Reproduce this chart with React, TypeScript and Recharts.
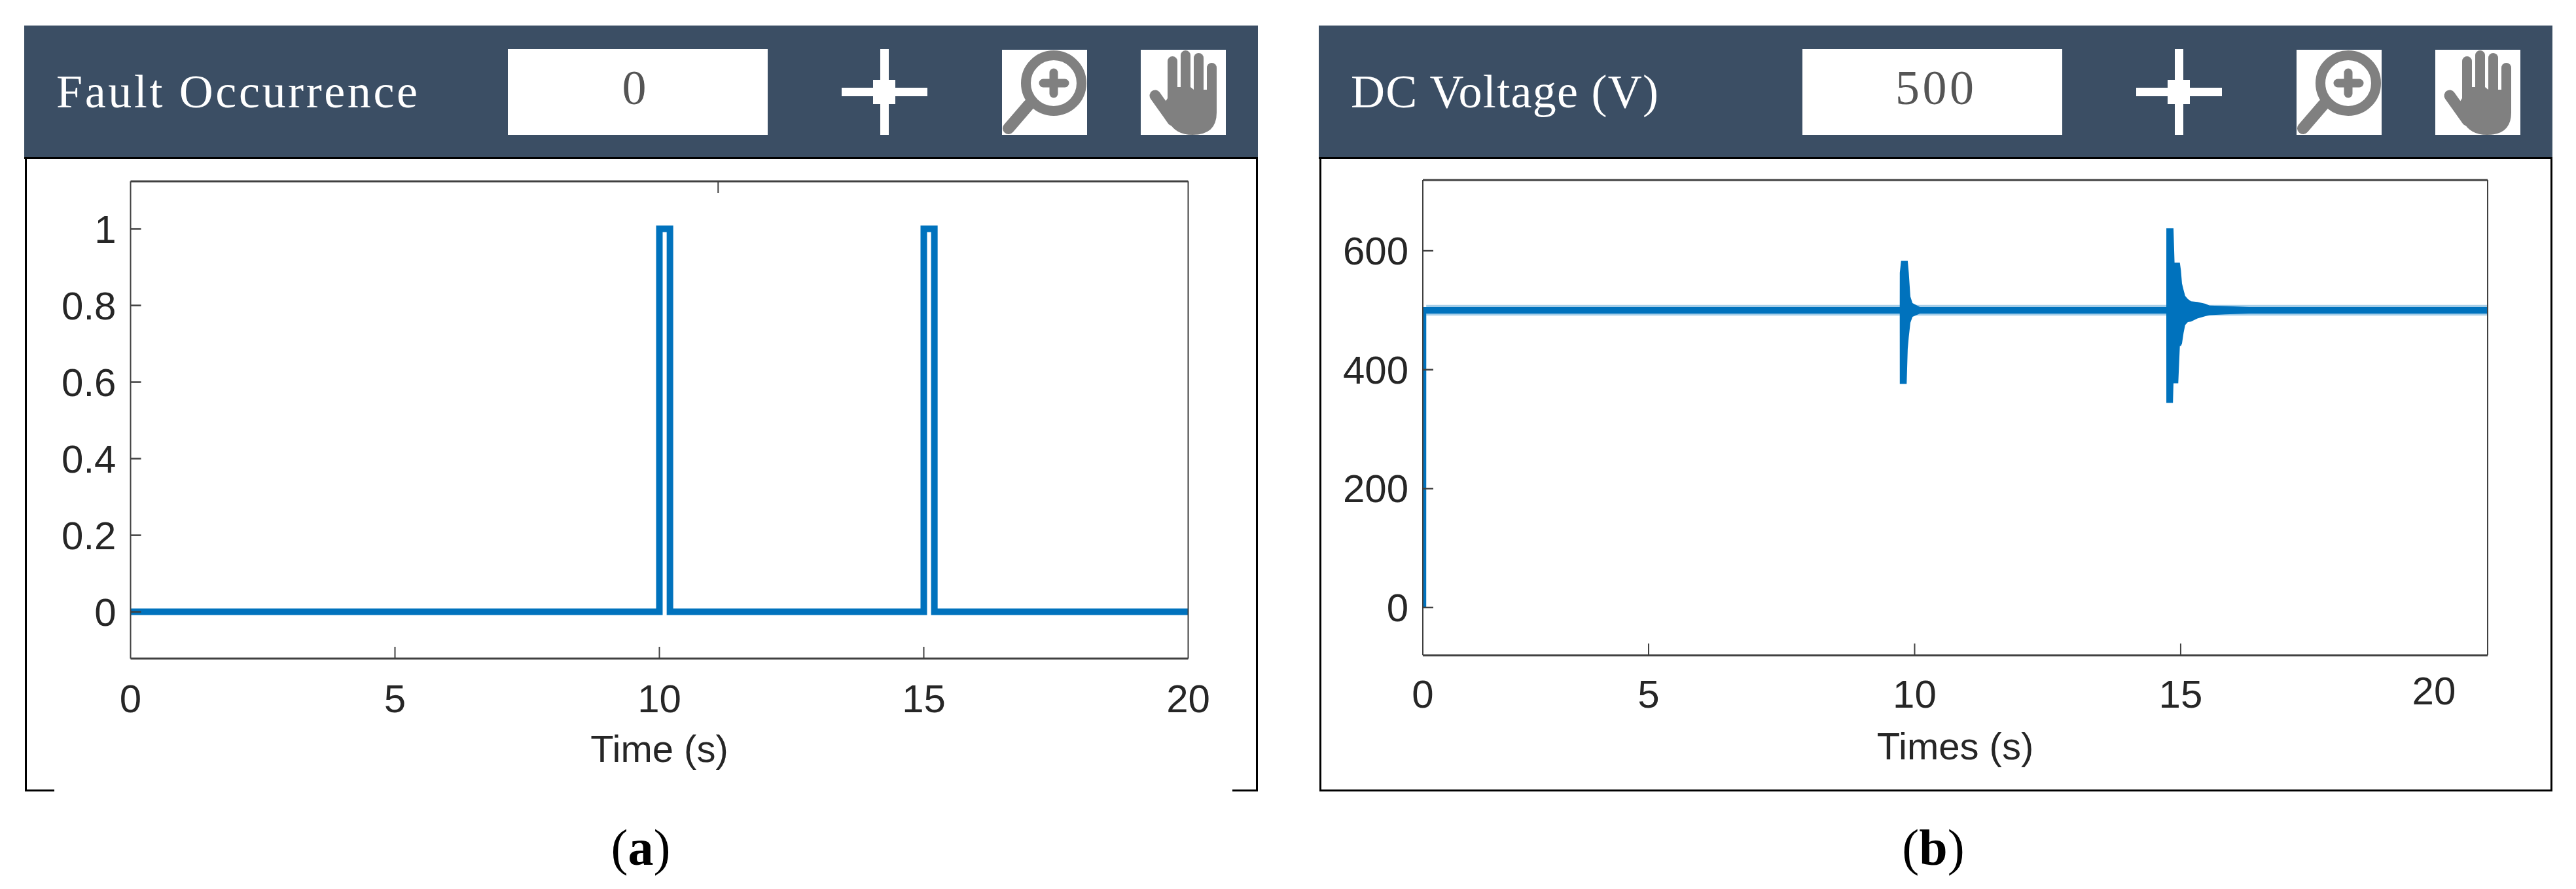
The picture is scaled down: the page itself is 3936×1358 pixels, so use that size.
import React from "react";
import { ComposedChart, Line, Area, XAxis, YAxis } from "recharts";

const BLUE = "#0072BD";
const HEADER = "#3B4E64";
const AXIS = "#404040";
const TICK_TEXT = "#262626";
const ICON = "#808080";
const SANS = "'Liberation Sans', Arial, sans-serif";
const SERIF = "'Liberation Serif', 'Times New Roman', serif";

// (a) fault flag
const faultTime = [0, 10, 10, 10.2, 10.2, 15, 15, 15.2, 15.2, 20];
const faultValue = [0, 0, 1, 1, 0, 0, 1, 1, 0, 0];
const faultXTicks = [0, 5, 10, 15, 20];
const faultYTicks = [0, 0.2, 0.4, 0.6, 0.8, 1];

// (b) dc voltage, drawn as the envelope of the ripple
const voltageTime = [
  0.756, 0.82, 0.821, 9.72, 9.721, 9.745, 9.85, 9.87, 9.89, 9.92, 9.96, 10.1,
  14.73, 14.731, 14.855, 14.865, 14.885, 14.955, 14.985, 15.005, 15.025, 15.055, 15.085, 15.135, 15.195,
  15.315, 15.465, 15.545, 15.835, 16.285, 20.77,
];
const voltageLow = [
  0, 0, 494.5, 494.5, 376, 376, 376, 435, 455, 479, 489, 494.5,
  494.5, 344, 344, 377, 377, 377, 440, 440, 444, 462, 475, 480, 481,
  486, 490, 491.5, 493, 494.5, 494.5,
];
const voltageHigh = [
  505.5, 505.5, 505.5, 505.5, 563, 583, 583, 583, 563, 523, 512, 505.5,
  505.5, 638, 638, 638, 580, 580, 580, 567, 545, 534, 524, 519, 515,
  514, 511, 508, 507, 505.5, 505.5,
];
const rippleTime = [0.82, 9.72, 16.285, 20.77];
const rippleLow = [491, 491, 491, 491];
const rippleHigh = [509, 509, 509, 509];
// the bottom axis of this panel sits 0.75 s to the left of the top one
const voltageXTicks = [0.756, 5, 10, 15, 19.76];
const voltageXLabels = ["0", "5", "10", "15", "20"];
const voltageTopTicks = [5.75, 10.75, 15.75];
const voltageYTicks = [0, 200, 400, 600];

const faultData = faultTime.map((t, i) => ({ t, fault: faultValue[i] }));
const voltageData = voltageTime.map((t, i) => ({ t, band: [voltageLow[i], voltageHigh[i]] }));
const rippleData = rippleTime.map((t, i) => ({ t, ripple: [rippleLow[i], rippleHigh[i]] }));

const PANEL_W = 1883;
const PANEL_H = 965;

// ticks point inwards like matlab, the label sits on the outside
function bottomTick(labels, marked, labelY) {
  return ({ x, y, payload, index }) => {
    const v = payload.value;
    const raised = labels && v > 19 && v < 20;
    return (
      <g>
        {marked.includes(v) && <line x1={x} x2={x} y1={y} y2={y - 18} stroke={AXIS} strokeWidth={2} />}
        <text x={x} y={y + (raised ? labelY - 5 : labelY)} textAnchor="middle" fontFamily={SANS} fontSize={60} fill={TICK_TEXT}>
          {labels ? labels[index] : v}
        </text>
      </g>
    );
  };
}

function topTick({ x, y }) {
  return <line x1={x} x2={x} y1={y} y2={y + 18} stroke={AXIS} strokeWidth={2} />;
}

function leftTick({ x, y, payload }) {
  return (
    <g>
      <line x1={x} x2={x + 16} y1={y} y2={y} stroke={AXIS} strokeWidth={2.5} />
      <text x={x - 22} y={y + 21} textAnchor="end" fontFamily={SANS} fontSize={60} fill={TICK_TEXT}>
        {payload.value}
      </text>
    </g>
  );
}

function rightTick({ x, y }) {
  return <line x1={x} x2={x - 16} y1={y} y2={y} stroke={AXIS} strokeWidth={2.5} />;
}

function Icons({ clipId }) {
  return (
    <g>
      {/* crosshair */}
      <rect x={1345} y={75} width={13} height={131} fill="#fff" />
      <rect x={1286} y={134} width={131} height={13} fill="#fff" />
      <rect x={1334} y={122} width={34} height={37} fill="#fff" />
      {/* zoom */}
      <clipPath id={clipId}>
        <rect x={1531} y={76} width={130} height={130} />
      </clipPath>
      <rect x={1531} y={76} width={130} height={130} fill="#fff" />
      <g clipPath={`url(#${clipId})`}>
        <circle cx={1610} cy={127} r={42.5} fill="none" stroke={ICON} strokeWidth={15} />
        <line x1={1572} y1={160} x2={1541} y2={196} stroke={ICON} strokeWidth={18} strokeLinecap="round" />
        <line x1={1610} y1={111} x2={1610} y2={143} stroke={ICON} strokeWidth={13} strokeLinecap="round" />
        <line x1={1594} y1={127} x2={1627} y2={127} stroke={ICON} strokeWidth={13} strokeLinecap="round" />
      </g>
      {/* hand */}
      <rect x={1743} y={76} width={130} height={130} fill="#fff" />
      <rect x={1784} y={86} width={15} height={60} rx={7.5} fill={ICON} />
      <rect x={1804} y={77} width={15} height={70} rx={7.5} fill={ICON} />
      <rect x={1824} y={81} width={15} height={70} rx={7.5} fill={ICON} />
      <rect x={1844} y={96} width={15} height={60} rx={7.5} fill={ICON} />
      <path d="M1784 133 L1804 133 L1819 133 L1824 137 L1844 137 L1859 140 L1859 172 Q1859 206 1822 206 Q1796 206 1786 186 L1774 166 L1784 150 Z" fill={ICON} />
      <line x1={1765} y1={146} x2={1792} y2={184} stroke={ICON} strokeWidth={17} strokeLinecap="round" />
    </g>
  );
}

function Panel({ left, title, titleWidth, value, valueX, valueWidth, openBottom, clipId, children }) {
  return (
    <div style={{ position: "absolute", left, top: 0, width: 1968, height: 1358 }}>
      <div style={{ position: "absolute", left: 38, top: 243 }}>{children}</div>
      <svg width={1968} height={1358} style={{ position: "absolute", left: 0, top: 0, pointerEvents: "none" }}>
        <rect x={37} y={39} width={1885} height={203} fill={HEADER} />
        <rect x={37} y={240} width={1885} height={3} fill="#000" />
        <rect x={38} y={240} width={3} height={968} fill="#000" />
        <rect x={1919} y={240} width={3} height={968} fill="#000" />
        {openBottom ? (
          <g>
            <rect x={38} y={1206} width={45} height={3} fill="#000" />
            <rect x={1883} y={1206} width={39} height={3} fill="#000" />
          </g>
        ) : (
          <rect x={38} y={1206} width={1884} height={3} fill="#000" />
        )}
        <text x={86} y={164} fontFamily={SERIF} fontSize={72} fill="#fff" textLength={titleWidth} lengthAdjust="spacing">
          {title}
        </text>
        <rect x={776} y={75} width={397} height={131} fill="#fff" />
        <text x={valueX} y={159} textAnchor="middle" fontFamily={SERIF} fontSize={74} fill="#555" textLength={valueWidth} lengthAdjust="spacing">
          {value}
        </text>
        <Icons clipId={clipId} />
      </svg>
    </div>
  );
}

export default function App() {
  return (
    <div style={{ position: "absolute", left: 0, top: 0, width: 3936, height: 1358, background: "#fff", overflow: "hidden" }}>
      <Panel left={0} title="Fault Occurrence" titleWidth={552} value="0" valueX={969} valueWidth={36} openBottom clipId="zoomA">
        <ComposedChart width={PANEL_W} height={PANEL_H} data={faultData} margin={{ top: 0, right: 0, bottom: 0, left: 0 }}>
          <XAxis
            dataKey="t"
            type="number"
            domain={[0, 20]}
            ticks={faultXTicks}
            interval={0}
            height={202}
            tickSize={0}
            tickMargin={0}
            tickLine={false}
            axisLine={{ stroke: AXIS, strokeWidth: 3 }}
            tick={bottomTick(null, [5, 10, 15], 82)}
            label={{ value: "Time (s)", position: "insideBottom", offset: 44, fontFamily: SANS, fontSize: 58, fill: TICK_TEXT }}
          />
          <XAxis
            xAxisId="top"
            orientation="top"
            type="number"
            domain={[0, 20]}
            ticks={[5, 10, 15]}
            interval={0}
            height={34}
            tickSize={0}
            tickMargin={0}
            tickLine={false}
            axisLine={{ stroke: AXIS, strokeWidth: 3 }}
            tick={topTick}
          />
          <YAxis
            type="number"
            domain={[-0.122, 1.124]}
            ticks={faultYTicks}
            interval={0}
            width={161.5}
            tickSize={0}
            tickMargin={0}
            tickLine={false}
            axisLine={{ stroke: AXIS, strokeWidth: 2 }}
            tick={leftTick}
          />
          <YAxis
            yAxisId="right"
            orientation="right"
            type="number"
            domain={[-0.122, 1.124]}
            ticks={faultYTicks}
            interval={0}
            width={105.5}
            tickSize={0}
            tickMargin={0}
            tickLine={false}
            axisLine={{ stroke: AXIS, strokeWidth: 2 }}
            tick={rightTick}
          />
          <Line dataKey="fault" stroke={BLUE} strokeWidth={10} dot={false} strokeLinejoin="miter" isAnimationActive={false} />
        </ComposedChart>
      </Panel>
      <Panel left={1978} title="DC Voltage (V)" titleWidth={470} value="500" valueX={978} valueWidth={120} clipId="zoomB">
        <ComposedChart width={PANEL_W} height={PANEL_H} margin={{ top: 0, right: 0, bottom: 0, left: 0 }}>
          <XAxis
            dataKey="t"
            type="number"
            domain={[0.756, 20.77]}
            ticks={voltageXTicks}
            interval={0}
            height={207}
            tickSize={0}
            tickMargin={0}
            tickLine={false}
            axisLine={{ stroke: AXIS, strokeWidth: 3 }}
            tick={bottomTick(voltageXLabels, [5, 10, 15], 80)}
            label={{ value: "Times (s)", position: "insideBottom", offset: 48, fontFamily: SANS, fontSize: 58, fill: TICK_TEXT }}
          />
          <XAxis
            xAxisId="top"
            orientation="top"
            type="number"
            domain={[0.756, 20.77]}
            ticks={voltageTopTicks}
            interval={0}
            height={32}
            tickSize={0}
            tickMargin={0}
            tickLine={false}
            axisLine={{ stroke: AXIS, strokeWidth: 3 }}
            tick={topTick}
          />
          <YAxis
            type="number"
            domain={[-80.4, 719]}
            ticks={voltageYTicks}
            interval={0}
            width={158}
            tickSize={0}
            tickMargin={0}
            tickLine={false}
            axisLine={{ stroke: AXIS, strokeWidth: 2 }}
            tick={leftTick}
          />
          <YAxis
            yAxisId="right"
            orientation="right"
            type="number"
            domain={[-80.4, 719]}
            ticks={voltageYTicks}
            interval={0}
            width={98}
            tickSize={0}
            tickMargin={0}
            tickLine={false}
            axisLine={{ stroke: AXIS, strokeWidth: 2 }}
            tick={rightTick}
          />
          <Area data={rippleData} dataKey="ripple" fill={BLUE} fillOpacity={0.35} stroke="none" dot={false} activeDot={false} isAnimationActive={false} />
          <Area data={voltageData} dataKey="band" fill={BLUE} fillOpacity={1} stroke="none" dot={false} activeDot={false} isAnimationActive={false} />
        </ComposedChart>
      </Panel>
      <svg width={3936} height={1358} style={{ position: "absolute", left: 0, top: 0, pointerEvents: "none" }}>
        <text x={979} y={1321} textAnchor="middle" fontFamily={SERIF} fontSize={78} fill="#000">
          (<tspan fontWeight="bold">a</tspan>)
        </text>
        <text x={2954} y={1321} textAnchor="middle" fontFamily={SERIF} fontSize={78} fill="#000">
          (<tspan fontWeight="bold">b</tspan>)
        </text>
      </svg>
    </div>
  );
}
